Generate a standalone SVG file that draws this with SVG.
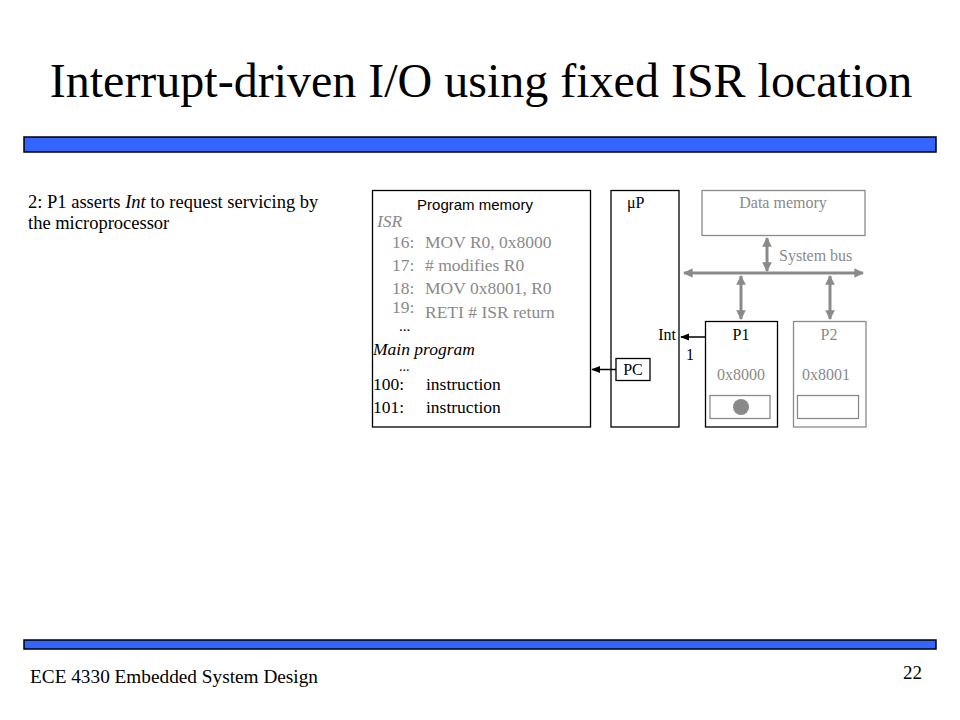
<svg xmlns="http://www.w3.org/2000/svg" width="960" height="720" viewBox="0 0 960 720">
<defs>
<style>
.serif{font-family:"Liberation Serif","Times New Roman",serif;}
.sans{font-family:"Liberation Sans",Arial,sans-serif;}
.gray{fill:#8a8a8a;}
.blk{fill:#000;}
.box{fill:#fff;stroke:#000;stroke-width:1.3;}
.gbox{fill:#fff;stroke:#8a8a8a;stroke-width:1.3;}
.bar{fill:#3366ff;stroke:#000;stroke-width:1.5;}
.bus{stroke:#8a8a8a;stroke-width:3;fill:none;}
.wire{stroke:#000;stroke-width:1.5;fill:none;}
</style>
<marker id="ga" viewBox="0 0 10 10" refX="9" refY="5" markerWidth="3.2" markerHeight="3.2" orient="auto-start-reverse" markerUnits="strokeWidth">
<path d="M0,0 L10,5 L0,10 Z" fill="#8a8a8a"/>
</marker>
<marker id="ba" viewBox="0 0 10 10" refX="9" refY="5" markerWidth="6" markerHeight="6" orient="auto" markerUnits="strokeWidth">
<path d="M0,1 L10,5 L0,9 Z" fill="#000"/>
</marker>
</defs>
<rect width="960" height="720" fill="#fff"/>

<g id="title">
<text class="serif blk" x="481" y="97" font-size="48" text-anchor="middle">Interrupt-driven I/O using fixed ISR location</text>
</g>
<rect id="top-bar" class="bar" x="24" y="137" width="912" height="15"/>
<rect id="bottom-bar" class="bar" x="24" y="640" width="912" height="9"/>

<g id="description">
<text class="serif blk" font-size="18.5" x="28" y="208">2: P1 asserts <tspan font-style="italic">Int</tspan> to request servicing by</text>
<text class="serif blk" font-size="18.5" x="28" y="229">the microprocessor</text>
</g>

<g id="program-memory">
<rect class="box" x="372.5" y="190.5" width="218" height="236.5"/>
<text class="sans blk" x="475" y="210" font-size="15" text-anchor="middle">Program memory</text>
<text class="serif gray" font-size="17.5" x="377" y="227" font-style="italic">ISR</text>
<text class="serif gray" font-size="17.5" x="392" y="248">16:</text>
<text class="serif gray" font-size="17.5" x="425" y="248">MOV R0, 0x8000</text>
<text class="serif gray" font-size="17.5" x="392" y="271">17:</text>
<text class="serif gray" font-size="17.5" x="425" y="271"># modifies R0</text>
<text class="serif gray" font-size="17.5" x="392" y="294">18:</text>
<text class="serif gray" font-size="17.5" x="425" y="294">MOV 0x8001, R0</text>
<text class="serif gray" font-size="17.5" x="392" y="313">19:</text>
<text class="serif gray" font-size="17.5" x="425" y="318">RETI  # ISR return</text>
<text class="serif blk" font-size="15" x="399" y="331">...</text>
<text class="serif blk" font-size="17.5" x="373" y="355" font-style="italic">Main program</text>
<text class="serif blk" font-size="14" x="399" y="371">...</text>
<text class="serif blk" font-size="17.5" x="373" y="390">100:</text>
<text class="serif blk" font-size="17.5" x="426" y="390">instruction</text>
<text class="serif blk" font-size="17.5" x="373" y="413">101:</text>
<text class="serif blk" font-size="17.5" x="426" y="413">instruction</text>
</g>

<g id="microprocessor">
<rect class="box" x="611" y="190.5" width="68" height="236.5"/>
<text class="serif blk" x="627" y="208" font-size="16">μP</text>
<text class="serif blk" x="676" y="340" font-size="16" text-anchor="end">Int</text>
</g>

<g id="pc">
<rect class="box" x="616" y="358.5" width="34" height="22"/>
<text class="serif blk" x="633" y="375" font-size="16" text-anchor="middle">PC</text>
</g>

<g id="data-memory">
<rect class="gbox" x="702" y="190.5" width="163" height="45"/>
<text class="serif gray" x="783" y="208" font-size="16" text-anchor="middle">Data memory</text>
</g>

<g id="p1">
<rect class="box" x="705.5" y="321.5" width="72" height="105.5"/>
<text class="serif blk" x="741" y="340" font-size="16" text-anchor="middle">P1</text>
<text class="serif gray" x="741" y="380" font-size="16" text-anchor="middle">0x8000</text>
<rect class="gbox" x="710" y="395.5" width="60" height="23"/>
<circle cx="741" cy="407" r="8" fill="#8a8a8a"/>
</g>

<g id="p2">
<rect class="gbox" x="793.5" y="321.5" width="72.5" height="105.5"/>
<text class="serif gray" x="829" y="340" font-size="16" text-anchor="middle">P2</text>
<text class="serif gray" x="826" y="380" font-size="16" text-anchor="middle">0x8001</text>
<rect class="gbox" x="797.5" y="395.5" width="61" height="23"/>
</g>

<g id="connectors">
<line class="bus" x1="684" y1="273" x2="863" y2="273" marker-start="url(#ga)" marker-end="url(#ga)"/>
<line class="bus" x1="767" y1="238" x2="767" y2="271" marker-start="url(#ga)" marker-end="url(#ga)"/>
<line class="bus" x1="741" y1="276" x2="741" y2="319" marker-start="url(#ga)" marker-end="url(#ga)"/>
<line class="bus" x1="830" y1="276" x2="830" y2="319" marker-start="url(#ga)" marker-end="url(#ga)"/>
<line class="wire" x1="705" y1="337" x2="681" y2="337" marker-end="url(#ba)"/>
<line class="wire" x1="616" y1="369.5" x2="592" y2="369.5" marker-end="url(#ba)"/>
<text class="serif blk" x="686" y="360" font-size="16">1</text>
<text class="serif gray" x="779" y="261" font-size="16">System bus</text>
</g>

<g id="footer">
<text class="serif blk" x="30" y="683" font-size="19" textLength="288" lengthAdjust="spacingAndGlyphs">ECE 4330 Embedded System Design</text>
<text class="serif blk" x="922" y="679" font-size="19" text-anchor="end">22</text>
</g>
</svg>
